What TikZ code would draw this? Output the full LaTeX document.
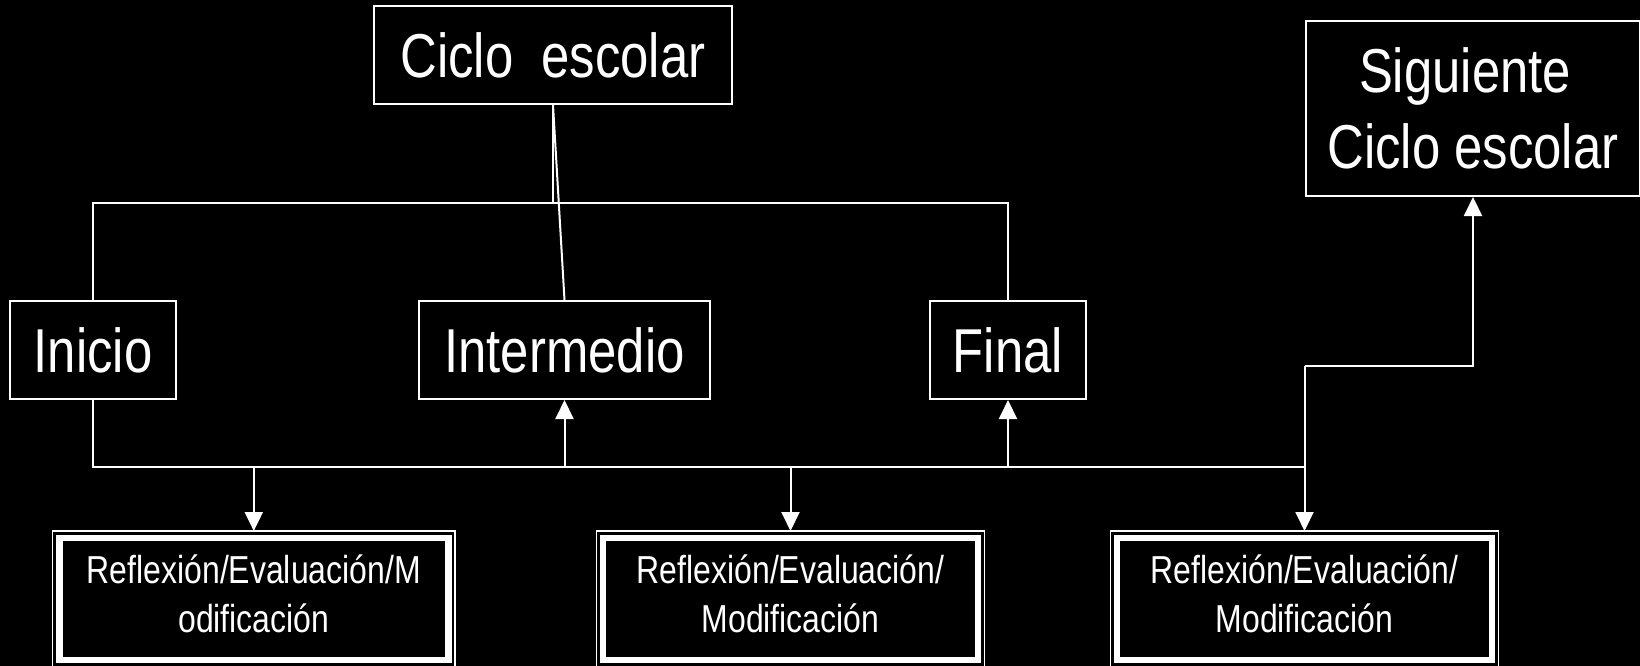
\documentclass[tikz,border=0pt]{standalone}
\usepackage{fontspec}
\setmainfont{Liberation Sans}[FakeStretch=0.82]
\usetikzlibrary{arrows.meta}

\begin{document}
\begin{tikzpicture}[x = 1pt, y = -1pt, line width = 2pt, white,
  box/.style = {draw, inner sep = 0pt, minimum height = 98pt, align = center, font = \fontsize{62}{76}\selectfont},
  refl/.style = {draw, line width = 6.5pt, inner sep = 0pt, outer sep = 6.8pt, minimum height = 122pt, text depth = 10pt, align = center, font = \fontsize{39}{49}\selectfont},
  frame/.style = {line width = 1.3pt},
  arr/.style = {-{Triangle[length = 19pt, width = 18pt]}}]

  \useasboundingbox (0, 0) rectangle (1640, 666);
  \fill[black] (0, 0) rectangle (1640, 666);

  \node[box, minimum width = 358pt] (ciclo) at (553, 55) {Ciclo\ \ escolar};
  \node[box, minimum width = 334pt, minimum height = 175pt] (siguiente) at (1473, 108.5) {Siguiente\hspace*{16pt}\\Ciclo escolar};

  \node[box, minimum width = 166pt] (inicio) at (93, 350) {Inicio};
  \node[box, minimum width = 291pt] (intermedio) at (564.5, 350) {Intermedio};
  \node[box, minimum width = 156pt] (final) at (1008, 350) {Final};

  \node[refl, minimum width = 389pt] (refl1) at (253.8, 598.8) {Reflexión/Evaluación/M\\odificación};
  \node[refl, minimum width = 375pt] (refl2) at (790.5, 598.8) {Reflexión/Evaluación/\\Modificación};
  \node[refl, minimum width = 375pt] (refl3) at (1304.5, 598.8) {Reflexión/Evaluación/\\Modificación};

  \foreach \n in {refl1, refl2, refl3}
    \draw[frame] (\n.north west) rectangle (\n.south east);

  \coordinate (bus) at (0, 203);
  \coordinate (lowbus) at (0, 467);
  \coordinate (step) at (0, 366);

  \draw (ciclo.south) -- (ciclo.south |- bus);
  \draw (ciclo.south) -- (intermedio.north);
  \draw (inicio.north) -- (inicio.north |- bus) -- (final.north |- bus) -- (final.north);

  \draw (inicio.south) -- (inicio.south |- lowbus) -- (refl3.north |- lowbus);
  \draw[arr] (intermedio.south |- lowbus) -- (intermedio.south);
  \draw[arr] (final.south |- lowbus) -- (final.south);
  \draw[arr] (refl1.north |- lowbus) -- (refl1.north);
  \draw[arr] (refl2.north |- lowbus) -- (refl2.north);
  \draw[arr] (refl3.north |- step) -- (refl3.north);
  \draw[arr] (refl3.north |- step) -- (siguiente.south |- step) -- (siguiente.south);

\end{tikzpicture}
\end{document}
